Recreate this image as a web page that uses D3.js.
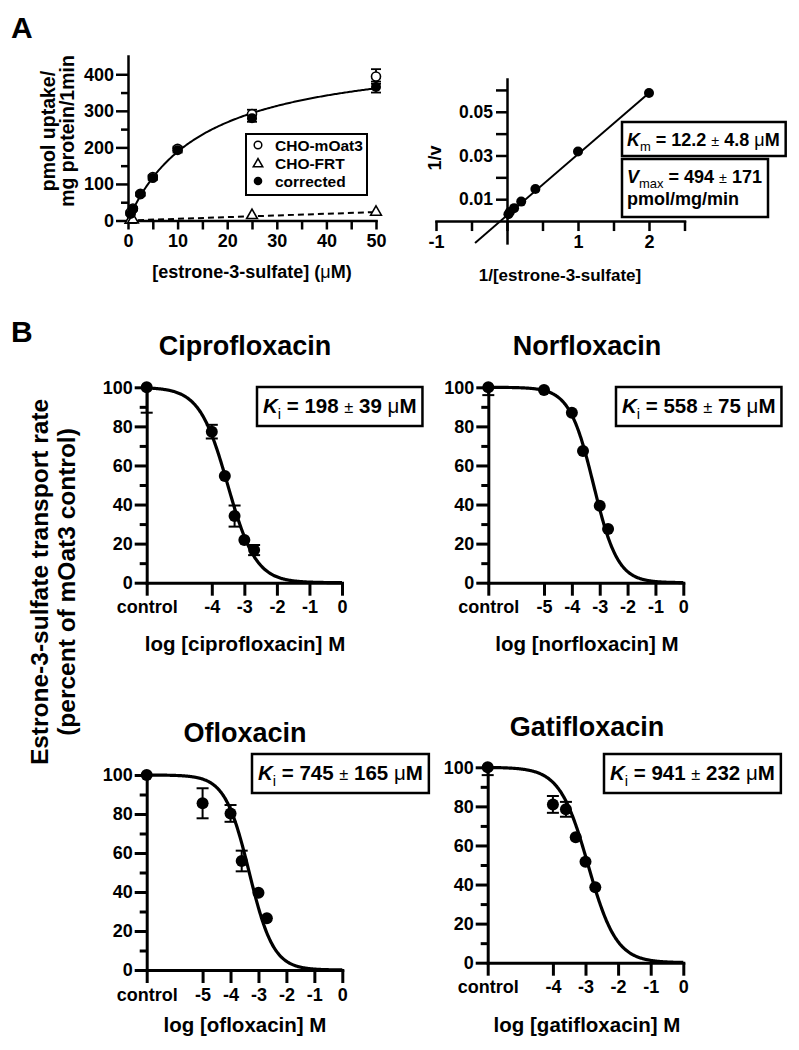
<!DOCTYPE html>
<html>
<head>
<meta charset="utf-8">
<script src="https://cdn.jsdelivr.net/npm/d3@7"></script>
<style>
  body { margin: 0; background: #fff; }
  svg { display: block; font-family: "Liberation Sans", Arial, Helvetica, sans-serif; font-weight: bold; }
</style>
</head>
<body>
<svg id="fig" width="799" height="1050"></svg>
<script>
// ---- panel A, saturation kinetics (uM vs pmol/mg/min) ----
const kinConc = [0.5, 1, 2.5, 5, 10, 25, 50];
const mOat3 = [22, 33, 73, 119, 196, 291, 394];
const mOat3Err = [3, 3, 4, 5, 6, 12, 20];
const frtConc = [0.5, 1, 25, 50];
const frt = [1, 2, 14, 23];
const corrected = [18, 31, 71, 116, 192, 280, 365];
const correctedErr = [3, 3, 4, 5, 6, 10, 15];
// fitted curves
const mmVmax = 470, mmKm = 15;
const frtSlope = 0.46, frtIntercept = 0;

// ---- panel A, Lineweaver-Burk ----
const lbX = [2, 1, 0.4, 0.2, 0.1, 0.04, 0.02];
const lbY = [0.0586, 0.0318, 0.0147, 0.0089, 0.0059, 0.0041, 0.0031];
const lbSlope = 0.028, lbIntercept = 0.0026, lbLineStart = -0.45;
const lbXTicks = [-1, -0.5, 0, 0.5, 1, 1.5, 2, 2.5];
const lbXLabels = ["-1", "", "", "", "1", "", "2", ""];
const lbYTicks = [0.01, 0.02, 0.03, 0.04, 0.05, 0.06];
const lbYLabels = ["0.01", "", "0.03", "", "0.05", ""];

// ---- panel B, inhibition (log M vs % of control); first point is control ----
const pctTicks = [0, 10, 20, 30, 40, 50, 60, 70, 80, 90, 100];

const ciproLogC = [-6, -4, -3.6, -3.3, -3, -2.7];
const ciproPct = [100, 77.3, 54.6, 34.1, 21.8, 16.7];
const ciproErr = [13, 3.5, 0, 5.4, 0, 2.6];
const ciproLogIC50 = -3.51;
const ciproTicks = [-6, -4, -3, -2, -1, 0];
const ciproTickLabels = ["control", "-4", "-3", "-2", "-1", "0"];

const norLogC = [-7, -5, -4, -3.6, -3, -2.7];
const norPct = [100, 98.6, 87, 67.4, 39.4, 27.5];
const norErr = [4, 0, 0, 0, 0, 0];
const norLogIC50 = -3.22;
const norTicks = [-7, -5, -4, -3, -2, -1, 0];
const norTickLabels = ["control", "-5", "-4", "-3", "-2", "-1", "0"];

const oflLogC = [-7, -5, -4, -3.6, -3, -2.7];
const oflPct = [100, 85.5, 80.3, 55.9, 39.6, 26.5];
const oflErr = [0, 7.7, 4.3, 5.3, 0, 0];
const oflLogIC50 = -3.33;
const oflTicks = [-7, -5, -4, -3, -2, -1, 0];
const oflTickLabels = ["control", "-5", "-4", "-3", "-2", "-1", "0"];

const gatLogC = [-6, -4, -3.6, -3.3, -3, -2.7];
const gatPct = [100, 81, 78.5, 64.2, 51.7, 38.6];
const gatErr = [4, 4.3, 3.8, 0, 0, 0];
const gatLogIC50 = -2.92;
const gatTicks = [-6, -4, -3, -2, -1, 0];
const gatTickLabels = ["control", "-4", "-3", "-2", "-1", "0"];

const hillSlope = 1;

const svg = d3.select("#fig");
svg.append("rect").attr("width", 799).attr("height", 1050).attr("fill", "#fff");

function styleAxis(g, w, fs) {
  g.attr("font-family", null).attr("font-size", fs);
  g.select(".domain").attr("stroke", "#000").attr("stroke-width", w).attr("stroke-linecap", "square");
  g.selectAll(".tick line").attr("stroke", "#000").attr("stroke-width", w);
  g.selectAll(".tick text").attr("fill", "#000").attr("font-weight", "bold");
}

// error bar helper, clipped to the plotted range
function errBars(g, xs, ys, es, x, y, lo, hi, cap, w) {
  xs.forEach((xv, i) => {
    if (!es[i]) return;
    const top = Math.min(hi, ys[i] + es[i]), bot = Math.max(lo, ys[i] - es[i]);
    g.append("line").attr("x1", x(xv)).attr("x2", x(xv)).attr("y1", y(top)).attr("y2", y(bot))
      .attr("stroke", "#000").attr("stroke-width", w);
    if (ys[i] + es[i] <= hi)
      g.append("line").attr("x1", x(xv) - cap).attr("x2", x(xv) + cap).attr("y1", y(top)).attr("y2", y(top))
        .attr("stroke", "#000").attr("stroke-width", w);
    if (ys[i] - es[i] >= lo)
      g.append("line").attr("x1", x(xv) - cap).attr("x2", x(xv) + cap).attr("y1", y(bot)).attr("y2", y(bot))
        .attr("stroke", "#000").attr("stroke-width", w);
  });
}

// K with subscript, "=", value ± err, unit
function kText(t, sym, sub, val, err, unit, fs) {
  t.append("tspan").attr("font-style", "italic").text(sym);
  t.append("tspan").attr("font-size", fs * 0.72).attr("font-weight", "normal").attr("dy", fs * 0.28).text(sub);
  t.append("tspan").attr("dy", -fs * 0.28).text(" = " + val + " ");
  t.append("tspan").attr("font-weight", "normal").attr("font-size", fs * 0.8).text("±");
  t.append("tspan").text(" " + err + (unit ? " " : ""));
  if (unit) {
    t.append("tspan").attr("font-weight", "normal").text("μ");
    t.append("tspan").text(unit);
  }
}

// panel letters
svg.append("text").attr("x", 11).attr("y", 38).attr("font-size", 30).text("A");
svg.append("text").attr("x", 11).attr("y", 342).attr("font-size", 30).text("B");

// ============ A left ============
{
  const x = d3.scaleLinear().domain([0, 50]).range([128, 376]);
  const y = d3.scaleLinear().domain([0, 450]).range([220.5, 56]);
  const g = svg.append("g");

  const gx = g.append("g").attr("transform", `translate(0,${y(0)})`)
    .call(d3.axisBottom(x).tickValues(d3.range(0, 51, 5)).tickSize(9).tickSizeOuter(0)
      .tickFormat(d => d % 10 === 0 ? d : ""));
  styleAxis(gx, 2.5, 18);
  gx.selectAll(".tick text").attr("y", 14);

  const gy = g.append("g").attr("transform", `translate(${x(0)},0)`)
    .call(d3.axisLeft(y).tickValues(d3.range(0, 401, 50)).tickSize(12).tickSizeOuter(0)
      .tickFormat(d => d % 100 === 0 ? d : ""));
  styleAxis(gy, 2.5, 18);
  gy.selectAll(".tick line").attr("x2", d => d % 100 === 0 ? -12 : -7);
  gy.selectAll(".tick text").attr("x", -14);

  // CHO-FRT linear fit
  g.append("line").attr("x1", x(0)).attr("x2", x(50))
    .attr("y1", y(frtIntercept)).attr("y2", y(frtIntercept + frtSlope * 50))
    .attr("stroke", "#000").attr("stroke-width", 2).attr("stroke-dasharray", "6,4");

  // Michaelis-Menten fit
  const line = d3.line().x(d => x(d[0])).y(d => y(d[1]));
  g.append("path").datum(d3.range(0, 50.01, 0.25).map(s => [s, mmVmax * s / (mmKm + s)]))
    .attr("d", line).attr("fill", "none").attr("stroke", "#000").attr("stroke-width", 2);

  errBars(g, kinConc, mOat3, mOat3Err, x, y, 0, 450, 5, 1.8);
  errBars(g, kinConc, corrected, correctedErr, x, y, 0, 450, 5, 1.8);

  g.selectAll(".open").data(kinConc).join("circle")
    .attr("cx", d => x(d)).attr("cy", (d, i) => y(mOat3[i])).attr("r", 4.5)
    .attr("fill", "#fff").attr("stroke", "#000").attr("stroke-width", 1.6);
  g.selectAll(".tri").data(frtConc).join("path")
    .attr("transform", (d, i) => `translate(${x(d)},${y(frt[i])})`)
    .attr("d", d3.symbol(d3.symbolTriangle, 50)())
    .attr("fill", "#fff").attr("stroke", "#000").attr("stroke-width", 1.6);
  g.selectAll(".fill").data(kinConc).join("circle")
    .attr("cx", d => x(d)).attr("cy", (d, i) => y(corrected[i])).attr("r", 5).attr("fill", "#000");

  // legend
  g.append("rect").attr("x", 246).attr("y", 134).attr("width", 121).attr("height", 61)
    .attr("fill", "#fff").attr("stroke", "#000").attr("stroke-width", 2);
  const legY = [145, 163, 181];
  const legNames = ["CHO-mOat3", "CHO-FRT", "corrected"];
  g.append("circle").attr("cx", 258).attr("cy", legY[0]).attr("r", 3.8)
    .attr("fill", "#fff").attr("stroke", "#000").attr("stroke-width", 1.5);
  g.append("path").attr("transform", `translate(258,${legY[1] + 1})`).attr("d", d3.symbol(d3.symbolTriangle, 38)())
    .attr("fill", "#fff").attr("stroke", "#000").attr("stroke-width", 1.6);
  g.append("circle").attr("cx", 258).attr("cy", legY[2]).attr("r", 4.3).attr("fill", "#000");
  legNames.forEach((n, i) => g.append("text").attr("x", 275).attr("y", legY[i] + 5.5)
    .attr("font-size", 15.5).text(n));

  // axis titles
  g.append("text").attr("transform", "translate(55,131) rotate(-90)").attr("text-anchor", "middle")
    .attr("font-size", 19.5).text("pmol uptake/");
  g.append("text").attr("transform", "translate(74,131) rotate(-90)").attr("text-anchor", "middle")
    .attr("font-size", 19.5).text("mg protein/1min");
  const xt = g.append("text").attr("x", 252).attr("y", 278).attr("text-anchor", "middle").attr("font-size", 18);
  xt.append("tspan").text("[estrone-3-sulfate] (");
  xt.append("tspan").attr("font-weight", "normal").text("μ");
  xt.append("tspan").text("M)");
}

// ============ A right (Lineweaver-Burk) ============
{
  const x = d3.scaleLinear().domain([-1, 2.5]).range([436, 684.5]);
  const y = d3.scaleLinear().domain([-0.01, 0.065]).range([242.9, 79]);
  const g = svg.append("g");

  const gx = g.append("g").attr("transform", `translate(0,${y(0)})`)
    .call(d3.axisBottom(x).tickValues(lbXTicks).tickSize(10).tickSizeOuter(0)
      .tickFormat((d, i) => lbXLabels[i]));
  styleAxis(gx, 2.5, 18);
  gx.selectAll(".tick text").attr("y", 14);

  const gy = g.append("g").attr("transform", `translate(${x(0)},0)`)
    .call(d3.axisLeft(y).tickValues(lbYTicks).tickSize(11).tickSizeOuter(0)
      .tickFormat((d, i) => lbYLabels[i]));
  styleAxis(gy, 2.5, 17.5);
  gy.selectAll(".tick text").attr("x", -14);

  g.append("line").attr("x1", x(lbLineStart)).attr("x2", x(2))
    .attr("y1", y(lbSlope * lbLineStart + lbIntercept)).attr("y2", y(lbSlope * 2 + lbIntercept))
    .attr("stroke", "#000").attr("stroke-width", 2);

  g.selectAll(".pt").data(lbX).join("circle")
    .attr("cx", d => x(d)).attr("cy", (d, i) => y(lbY[i])).attr("r", 5).attr("fill", "#000");

  g.append("text").attr("transform", "translate(441,158) rotate(-90)").attr("text-anchor", "middle")
    .attr("font-size", 18).text("1/v");
  g.append("text").attr("x", 560).attr("y", 281).attr("text-anchor", "middle")
    .attr("font-size", 17).text("1/[estrone-3-sulfate]");

  // Km / Vmax boxes
  const b1 = g.append("rect").attr("x", 622).attr("y", 122).attr("height", 34)
    .attr("fill", "#fff").attr("stroke", "#000").attr("stroke-width", 2.5);
  const t1 = g.append("text").attr("x", 627).attr("y", 146).attr("font-size", 18);
  kText(t1, "K", "m", "12.2", "4.8", "M", 18);
  b1.attr("width", t1.node().getBBox().width + 11);

  const b2 = g.append("rect").attr("x", 622).attr("y", 159).attr("height", 58)
    .attr("fill", "#fff").attr("stroke", "#000").attr("stroke-width", 2.5);
  const t2 = g.append("text").attr("x", 627).attr("y", 183).attr("font-size", 18);
  kText(t2, "V", "max", "494", "171", null, 18);
  const t3 = g.append("text").attr("x", 627).attr("y", 205).attr("font-size", 18).text("pmol/mg/min");
  b2.attr("width", Math.max(t2.node().getBBox().width, t3.node().getBBox().width) + 11);
}

// ============ B panels ============
const panelsB = [
  { title: "Ciprofloxacin", drug: "ciprofloxacin", logC: ciproLogC, pct: ciproPct, err: ciproErr, ic50: ciproLogIC50,
    ticks: ciproTicks, tickLabels: ciproTickLabels, ki: ["198", "39"],
    xr: [146.7, 342], yr: [582.7, 387.3], cx: 245, titleY: 355, labelY: 651, box: [257, 387] },
  { title: "Norfloxacin", drug: "norfloxacin", logC: norLogC, pct: norPct, err: norErr, ic50: norLogIC50,
    ticks: norTicks, tickLabels: norTickLabels, ki: ["558", "75"],
    xr: [488.3, 683.3], yr: [582.7, 387.3], cx: 587, titleY: 355, labelY: 651, box: [616, 387] },
  { title: "Ofloxacin", drug: "ofloxacin", logC: oflLogC, pct: oflPct, err: oflErr, ic50: oflLogIC50,
    ticks: oflTicks, tickLabels: oflTickLabels, ki: ["745", "165"],
    xr: [146.7, 342.3], yr: [970, 775], cx: 245, titleY: 742, labelY: 1032, box: [252, 754] },
  { title: "Gatifloxacin", drug: "gatifloxacin", logC: gatLogC, pct: gatPct, err: gatErr, ic50: gatLogIC50,
    ticks: gatTicks, tickLabels: gatTickLabels, ki: ["941", "232"],
    xr: [487.7, 683.3], yr: [962.7, 767.3], cx: 587, titleY: 736, labelY: 1032, box: [604, 754] }
];

panelsB.forEach(p => {
  const dom = [p.ticks[0], 0];
  const x = d3.scaleLinear().domain(dom).range(p.xr);
  const y = d3.scaleLinear().domain([0, 100]).range(p.yr);
  const g = svg.append("g");

  const gx = g.append("g").attr("transform", `translate(0,${y(0)})`)
    .call(d3.axisBottom(x).tickValues(p.ticks).tickSize(13).tickSizeOuter(0)
      .tickFormat((d, i) => p.tickLabels[i]));
  styleAxis(gx, 3, 18);
  gx.selectAll(".tick text").attr("y", 18);

  const gy = g.append("g").attr("transform", `translate(${x(dom[0])},0)`)
    .call(d3.axisLeft(y).tickValues(pctTicks).tickSize(12).tickSizeOuter(0)
      .tickFormat(d => d % 20 === 0 ? d : ""));
  styleAxis(gy, 3, 18);
  gy.selectAll(".tick line").attr("x2", d => d % 20 === 0 ? -12 : -7);
  gy.selectAll(".tick text").attr("x", -14);

  const line = d3.line().x(d => x(d[0])).y(d => y(d[1]));
  g.append("path")
    .datum(d3.range(dom[0], 0.001, 0.02).map(v => [v, 100 / (1 + Math.pow(10, hillSlope * (v - p.ic50)))]))
    .attr("d", line).attr("fill", "none").attr("stroke", "#000").attr("stroke-width", 3.2);

  errBars(g, p.logC, p.pct, p.err, x, y, 0, 100, 6, 2);
  g.selectAll(".pt").data(p.logC).join("circle")
    .attr("cx", d => x(d)).attr("cy", (d, i) => y(p.pct[i])).attr("r", 6).attr("fill", "#000");

  g.append("text").attr("x", p.cx).attr("y", p.titleY).attr("text-anchor", "middle")
    .attr("font-size", 27).text(p.title);
  g.append("text").attr("x", p.cx).attr("y", p.labelY).attr("text-anchor", "middle")
    .attr("font-size", 20.5).text(`log [${p.drug}] M`);

  const box = g.append("rect").attr("x", p.box[0]).attr("y", p.box[1]).attr("height", 39)
    .attr("fill", "#fff").attr("stroke", "#000").attr("stroke-width", 2.5);
  const kt = g.append("text").attr("x", p.box[0] + 6).attr("y", p.box[1] + 26).attr("font-size", 20.5);
  kText(kt, "K", "i", p.ki[0], p.ki[1], "M", 20.5);
  box.attr("width", kt.node().getBBox().width + 12);
});

// shared y title for B
svg.append("text").attr("transform", "translate(48,582) rotate(-90)").attr("text-anchor", "middle")
  .attr("font-size", 24.5).text("Estrone-3-sulfate transport rate");
svg.append("text").attr("transform", "translate(75,582) rotate(-90)").attr("text-anchor", "middle")
  .attr("font-size", 24.5).text("(percent of mOat3 control)");
</script>
</body>
</html>
